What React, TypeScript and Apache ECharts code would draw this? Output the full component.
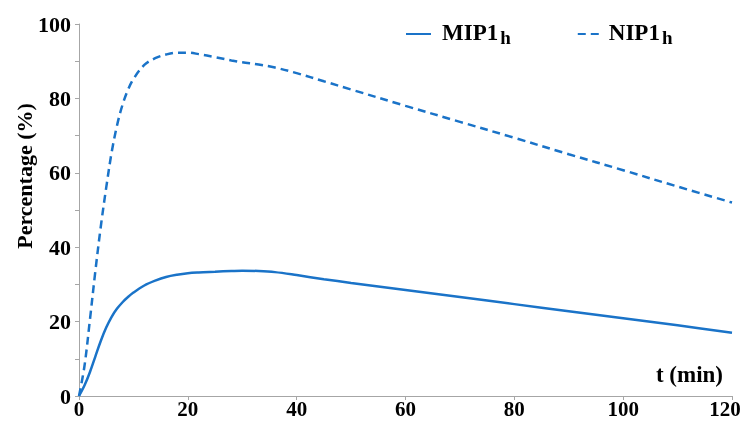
import React, { useEffect, useRef } from "react";
import * as echarts from "echarts";

const times = [0, 1, 2, 3, 4, 5, 6, 7, 8, 9, 10, 12, 14, 16, 18, 20, 22, 25, 28, 30, 33, 36, 40, 45, 50, 60, 70, 80, 90, 100, 110, 120];
const mip1h = [0, 2.8, 6.4, 10.6, 14.8, 18.4, 21.3, 23.5, 25.2, 26.6, 27.8, 29.7, 31, 32, 32.6, 33, 33.2, 33.4, 33.6, 33.7, 33.6, 33.3, 32.5, 31.4, 30.4, 28.5, 26.6, 24.7, 22.8, 20.9, 19, 17];
const nip1h = [0, 8, 20.4, 33.5, 45.5, 56, 65.5, 72.8, 78.3, 82.3, 85.2, 89, 90.8, 91.8, 92.3, 92.3, 91.9, 91.1, 90.2, 89.7, 89.1, 88.3, 86.8, 84.6, 82.4, 78, 73.7, 69.4, 65, 60.7, 56.3, 52];
const xTicks = [0, 20, 40, 60, 80, 100, 120];
const yTicks = [0, 20, 40, 60, 80, 100];
const seriesNames = ["MIP1", "NIP1"];

const FONT = "Liberation Serif";
const BLUE = "#1a73c8";
const AXIS = "#a6a6a6";

export default function App() {
  const ref = useRef<HTMLDivElement>(null);
  useEffect(() => {
    if (!ref.current) return;
    const chart = echarts.init(ref.current, null, { renderer: "svg" });
    const pair = (vals: number[]) => times.map((t, i) => [t, vals[i]]);
    const rich = {
      m: { fontFamily: FONT, fontWeight: "bold", fontSize: 23, color: "#000", lineHeight: 26, verticalAlign: "top" },
      s: { fontFamily: FONT, fontWeight: "bold", fontSize: 19, color: "#000", lineHeight: 16, verticalAlign: "bottom", padding: [0, 0, 0, 2] },
    };
    const lastX = xTicks[xTicks.length - 1];
    chart.setOption({
      animation: false,
      grid: { left: 79, right: 10, top: 24, bottom: 25, containLabel: false, outerBoundsMode: "none" },
      legend: {
        left: 405,
        top: 21,
        padding: 0,
        itemWidth: 25,
        itemHeight: 14,
        itemGap: 66,
        itemStyle: { opacity: 0 },
        data: [
          { name: seriesNames[0], textStyle: { padding: [0, 0, 0, 6] } },
          { name: seriesNames[1], textStyle: { padding: [0, 0, 0, 1] } },
        ],
        formatter: (n: string) => `{m|${n}}{s|h}`,
        textStyle: { rich },
      },
      xAxis: {
        type: "value",
        min: 0,
        max: 120,
        interval: 20,
        axisLine: { show: true, lineStyle: { color: AXIS, width: 1 } },
        axisTick: { show: true, length: 4, lineStyle: { color: AXIS } },
        splitLine: { show: false },
        axisLabel: {
          margin: 2,
          fontFamily: FONT,
          fontWeight: "bold",
          fontSize: 21,
          lineHeight: 21,
          color: "#000",
          formatter: (v: number) => (v === lastX ? `{r|${v}}` : xTicks.includes(v) ? String(v) : ""),
          rich: {
            r: { fontFamily: FONT, fontWeight: "bold", fontSize: 21, lineHeight: 21, color: "#000", padding: [0, 14, 0, 0] },
          },
        },
      },
      yAxis: {
        type: "value",
        min: 0,
        max: 100,
        interval: 10,
        axisLine: { show: true, lineStyle: { color: AXIS, width: 1 } },
        axisTick: { show: true, length: 4, lineStyle: { color: AXIS } },
        splitLine: { show: false },
        axisLabel: {
          margin: 8,
          fontFamily: FONT,
          fontWeight: "bold",
          fontSize: 22,
          color: "#000",
          formatter: (v: number) => (yTicks.includes(v) ? String(v) : ""),
        },
      },
      graphic: [
        {
          type: "text",
          x: 24,
          y: 176,
          rotation: Math.PI / 2,
          style: {
            text: "Percentage (%)",
            fontFamily: FONT,
            fontWeight: "bold",
            fontSize: 22,
            fill: "#000",
            textAlign: "center",
            textVerticalAlign: "middle",
          },
        },
        {
          type: "text",
          x: 723,
          y: 374,
          style: {
            text: "t (min)",
            fontFamily: FONT,
            fontWeight: "bold",
            fontSize: 23,
            fill: "#000",
            textAlign: "right",
            textVerticalAlign: "middle",
          },
        },
      ],
      series: [
        {
          name: seriesNames[0],
          type: "line",
          data: pair(mip1h),
          smooth: 0.35,
          symbol: "none",
          lineStyle: { color: BLUE, width: 2.5 },
          itemStyle: { color: BLUE },
        },
        {
          name: seriesNames[1],
          type: "line",
          data: pair(nip1h),
          smooth: 0.35,
          symbol: "none",
          lineStyle: { color: BLUE, width: 2.5, type: [8, 5] },
          itemStyle: { color: BLUE },
        },
      ],
    });
    return () => chart.dispose();
  }, []);
  return <div ref={ref} style={{ position: "fixed", left: 0, top: 0, width: 742, height: 421 }} />;
}
